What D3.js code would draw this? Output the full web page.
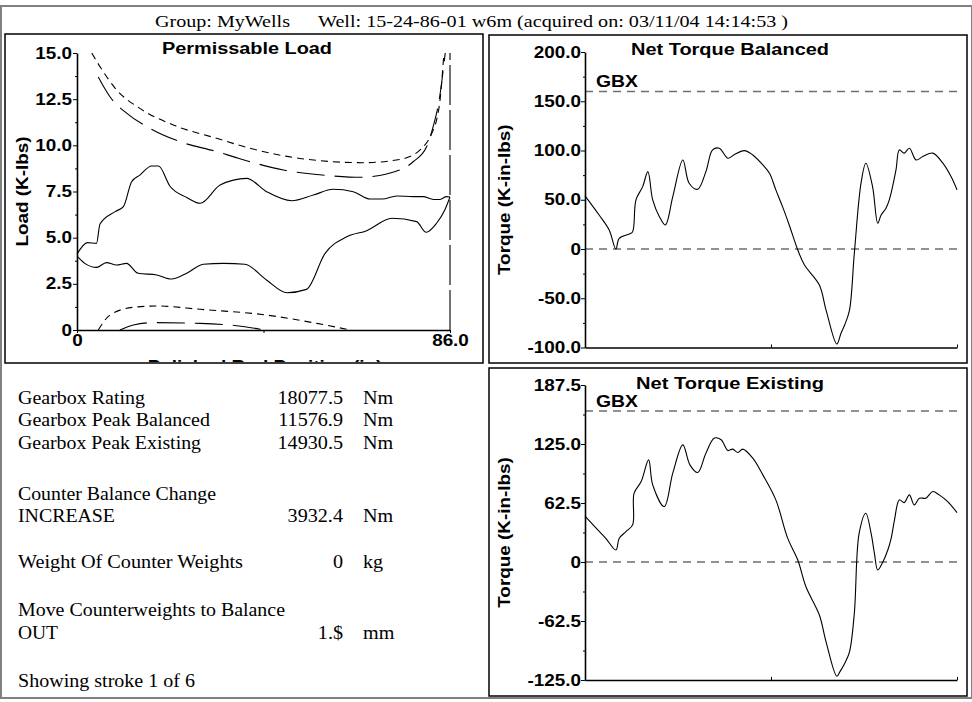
<!DOCTYPE html>
<html><head><meta charset="utf-8">
<script src="https://cdn.jsdelivr.net/npm/d3@7"></script>
<style>body{margin:0;background:#fff}svg{display:block}</style>
</head><body>
<svg id="c" width="972" height="702"></svg>
<script>
// ---------------- DATA ----------------
const titleGroup = "Group: MyWells";
const titleWell = "Well: 15-24-86-01 w6m (acquired on: 03/11/04 14:14:53 )";

// Permissable Load chart (position in, load K-lbs)
const loadTicks = [0, 2.5, 5, 7.5, 10, 12.5, 15];
const loadMinorTicks = [1.25, 3.75, 6.25, 8.75, 11.25, 13.75];
const posTicks = [0, 43, 86];
const cardUpPos  = [0, 2.4, 4.5, 5.3, 8.8, 10.7, 12.6, 14.5, 17.2, 18.8, 21.4, 25.3, 28.4, 33, 39.1, 43.7, 49.5, 54.5, 59.1, 63.7, 67.6, 70.4, 73.7, 77.5, 79.8, 82.2, 83.7, 85.2, 86];
const cardUpLoad = [4.1, 4.73, 4.69, 5.74, 6.41, 6.68, 8.03, 8.39, 8.88, 8.88, 7.8, 7.18, 6.86, 7.85, 8.21, 7.49, 7.0, 7.31, 7.62, 7.49, 7.09, 7.09, 7.26, 7.22, 7.22, 7.07, 7.07, 7.22, 7.2];
const cardDnPos  = [0, 1.8, 4.5, 6.8, 9.1, 11.4, 14.1, 18.4, 21.8, 25.3, 29.1, 33.8, 38.7, 43.7, 48.4, 52.9, 57.2, 62.2, 66.8, 72.6, 78.3, 80.5, 82.9, 84.8, 86];
const cardDnLoad = [4.0, 3.61, 3.39, 3.65, 3.52, 3.61, 3.07, 2.98, 2.76, 3.07, 3.56, 3.61, 3.56, 2.71, 2.02, 2.2, 4.15, 5.05, 5.38, 6.05, 5.87, 5.29, 5.78, 6.5, 7.2];
const maxEnvPos  = [3.4, 5.3, 9.15, 14.5, 22.2, 32.2, 39.9, 51.4, 66, 74.5, 79.1, 81.8, 82.9, 83.7, 84.6];
const maxEnvLoad = [15, 14.26, 13.0, 12.0, 11.1, 10.38, 9.84, 9.29, 9.06, 9.24, 9.75, 10.65, 11.37, 12.45, 15];
const maxLimPos  = [4.9, 7.6, 11.5, 16.8, 23.7, 32.2, 37.2, 47.6, 59.1, 65.3, 71.4, 77.5, 80.6, 82.1, 83.5, 84.9];
const maxLimLoad = [13.7, 12.63, 11.73, 10.92, 10.2, 9.66, 9.3, 8.66, 8.34, 8.27, 8.45, 9.11, 9.92, 11.0, 12.45, 15];
const minEnvPos  = [4.9, 7.6, 13, 18.4, 28.4, 43.7, 55.3, 63];
const minEnvLoad = [0, 0.81, 1.23, 1.3, 1.12, 0.81, 0.36, 0];
const minLimPos  = [9.9, 13, 17.6, 28.4, 42.2, 43];
const minLimLoad = [0, 0.27, 0.4, 0.36, 0.04, 0];
const strokeEndPos = [86, 86];
const strokeEndLoad = [0, 15];

// Net torque charts (percent of stroke, K-in-lbs)
const gbxRating = 160;
const balTicks = [-100, -50, 0, 50, 100, 150, 200];
const balMinorTicks = [-75, -25, 25, 75, 125, 175];
const exiTicks = [-125, -62.5, 0, 62.5, 125, 187.5];
const exiMinorTicks = [-93.75, -31.25, 31.25, 93.75, 156.25];
const strokeTicks = [0, 50, 100];
const balT = [0, 3.8, 6.5, 8.3, 9.2, 11.9, 12.8, 13.7, 15.5, 16.9, 18.2, 20, 21.6, 23.6, 26.3, 28, 30.3, 32.5, 34.3, 36.1, 38.4, 40, 42.8, 45.1, 47.8, 49.6, 51.3, 53.1, 54.9, 57.2, 59, 63, 64.8, 67.7, 68.8, 69.8, 71.1, 72.4, 74.2, 75.5, 77.3, 78.7, 79.6, 80.9, 81.8, 83.6, 84.5, 85.8, 87.2, 89, 90.8, 93.5, 96.2, 98.4, 100];
const balTorque = [54, 34.5, 19.3, 0, 10.8, 15.2, 17.6, 49.8, 63.3, 78.6, 49.8, 32.8, 24.4, 53.2, 90.4, 66.8, 60.7, 78.6, 100.6, 102.3, 92.2, 95.5, 99.9, 95.5, 85.4, 76.9, 60, 43, 24.4, -1, -16.3, -36.6, -62, -96.5, -85.7, -77.2, -62, -4.4, 66.8, 87.1, 63.3, 26.1, 34.5, 41.4, 49.8, 80.3, 100.6, 97.3, 102.3, 90.4, 93.8, 97.3, 87.1, 73.5, 60];
const exiT = [0, 3, 5.6, 8.3, 9.2, 11, 12.8, 13.2, 15.1, 17.1, 18.2, 21.3, 23.6, 26.3, 28.2, 30.3, 32.5, 34.8, 36.6, 38.4, 39.7, 41.1, 42.4, 45.1, 47.8, 51.3, 54.5, 57.2, 59.4, 63, 64.8, 67.7, 68.5, 69.8, 71.1, 72.4, 73.7, 75.5, 76.9, 77.8, 78.7, 80.1, 81.4, 82.3, 83.2, 84.5, 85.8, 87.2, 88.5, 89.9, 91.6, 93.5, 95.2, 97.5, 100];
const exiTorque = [48.5, 35.8, 25.1, 12.7, 25.1, 32.2, 39.3, 72.9, 85.2, 108.2, 81.7, 58.7, 94.1, 124.1, 102.9, 94.8, 115.3, 131.3, 129.5, 118.1, 119.6, 116, 119.6, 110, 92.3, 65.8, 25, 2.1, -26.2, -56.2, -84.6, -121, -116.4, -107.5, -95.2, -54.4, 30.5, 51.7, 30.5, 9.2, -8.5, 0.3, 12.7, 25.1, 44.6, 65.8, 62.9, 71.1, 60.5, 67.6, 67.6, 74.6, 71.1, 64, 52.3];

// Info panel
const infoLabels = ["Gearbox Rating", "Gearbox Peak Balanced", "Gearbox Peak Existing", "Counter Balance Change", "INCREASE", "Weight Of Counter Weights", "Move Counterweights to Balance", "OUT", "Showing stroke 1 of 6"];
const infoValues = ["18077.5", "11576.9", "14930.5", "", "3932.4", "0", "", "1.$", ""];
const infoUnits  = ["Nm", "Nm", "Nm", "", "Nm", "kg", "", "mm", ""];

// ---------------- DRAW ----------------
const svg = d3.select('#c');
const SX = 1.18;
const FS = 16;
const sans = '"Liberation Sans", Arial, Helvetica, sans-serif';
const serif = '"Liberation Serif", "Times New Roman", Times, serif';

function label(g, x, y, s, o = {}) {
  const t = g.append('text')
    .attr('transform', `translate(${x},${y})${o.rot ? ` rotate(${o.rot})` : ''}${o.len ? '' : ` scale(${o.sx || SX},1)`}`)
    .attr('text-anchor', o.anchor || 'start')
    .style('font-family', o.font || sans)
    .style('font-size', (o.size || FS) + 'px')
    .style('font-weight', o.normal ? 'normal' : 'bold')
    .attr('fill', '#000')
    .text(s);
  if (o.len) t.attr('textLength', o.len).attr('lengthAdjust', 'spacingAndGlyphs');
  return t;
}

function styleAxis(g) {
  g.attr('font-family', sans).attr('font-size', FS).attr('font-weight', 'bold');
  g.select('.domain').attr('stroke', '#000').attr('stroke-width', 1.6);
  g.selectAll('.tick line').attr('stroke', '#000').attr('stroke-width', 1);
  g.selectAll('.tick text').attr('fill', '#000').each(function () {
    const t = d3.select(this);
    const x = +t.attr('x') || 0, y = +t.attr('y') || 0;
    t.attr('x', 0).attr('y', 0).attr('transform', `translate(${x},${y}) scale(${SX},1)`);
  });
}
function minorAxis(g) { g.select('.domain').remove(); g.selectAll('.tick line').attr('stroke', '#000'); }

// frame
svg.append('rect').attr('x', 1).attr('y', 6).attr('width', 971).attr('height', 692)
  .attr('fill', 'none').attr('stroke', '#808080').attr('stroke-width', 2);
label(svg, 155, 27, titleGroup, { font: serif, size: 16, normal: true, len: 135 });
label(svg, 318, 27, titleWell, { font: serif, size: 16, normal: true, len: 470 });

// panels
const panels = [[5, 34, 478, 329], [489, 35, 478, 328], [489, 368, 478, 328]];
panels.forEach(p => svg.append('rect').attr('x', p[0]).attr('y', p[1]).attr('width', p[2]).attr('height', p[3])
  .attr('fill', 'none').attr('stroke', '#000').attr('stroke-width', 1.5));

// ---------- Permissable Load ----------
const gL = svg.append('g');
const xL = d3.scaleLinear().domain([0, 86]).range([77, 450]);
const yL = d3.scaleLinear().domain([0, 15]).range([330, 53]);
svg.append('clipPath').attr('id', 'clipL').append('rect').attr('x', 6).attr('y', 35).attr('width', 476).attr('height', 327);

const lineL = (xs, ys, curve) => d3.line().x((d, i) => xL(xs[i])).y((d, i) => yL(ys[i])).curve(curve || d3.curveMonotoneX)(xs);
const loadSeries = [
  [maxEnvPos, maxEnvLoad, '7,5'],
  [maxLimPos, maxLimLoad, '28,10'],
  [minEnvPos, minEnvLoad, '7,5'],
  [minLimPos, minLimLoad, '28,10'],
  [cardUpPos, cardUpLoad, null],
  [cardDnPos, cardDnLoad, null],
];
loadSeries.forEach(s => gL.append('path').attr('d', lineL(s[0], s[1])).attr('fill', 'none')
  .attr('stroke', '#000').attr('stroke-width', 1.1).attr('stroke-dasharray', s[2]));
gL.append('path').attr('d', lineL(strokeEndPos, strokeEndLoad, d3.curveLinear)).attr('fill', 'none')
  .attr('stroke', '#000').attr('stroke-width', 1.1).attr('stroke-dasharray', '40,5');

gL.append('g').attr('transform', 'translate(77,0)')
  .call(d3.axisLeft(yL).tickValues(loadTicks).tickFormat(d => d === 0 ? '0' : d.toFixed(1)).tickSize(4).tickSizeOuter(0).tickPadding(1))
  .call(styleAxis);
gL.append('g').attr('transform', 'translate(77,0)')
  .call(d3.axisLeft(yL).tickValues(loadMinorTicks).tickSize(2).tickFormat(''))
  .call(minorAxis);
gL.append('g').attr('transform', 'translate(0,330)')
  .call(d3.axisBottom(xL).tickValues(posTicks).tickFormat(d => d === 0 ? '0' : (d === 86 ? '86.0' : '')).tickSize(3).tickSizeOuter(0).tickPadding(2))
  .call(styleAxis);
label(gL, 162, 54, 'Permissable Load', { len: 170 });
label(gL, 28, 191.5, 'Load (K-lbs)', { rot: -90, anchor: 'middle' });
gL.append('g').attr('clip-path', 'url(#clipL)').call(g => label(g, 265, 372.3, 'Polished Rod Position (in)', { anchor: 'middle' }));

// ---------- Torque charts ----------
function torqueChart(cfg) {
  const g = svg.append('g');
  const x = d3.scaleLinear().domain([0, 100]).range([585, 957]);
  const y = d3.scaleLinear().domain(cfg.domain).range(cfg.range);
  [gbxRating, 0].forEach(v => g.append('line').attr('x1', x(0)).attr('x2', x(100)).attr('y1', y(v)).attr('y2', y(v))
    .attr('stroke', '#6e6e6e').attr('stroke-width', 1.5).attr('stroke-dasharray', '8,6'));
  g.append('path').attr('d', d3.line().x((d, i) => x(cfg.t[i])).y((d, i) => y(cfg.v[i])).curve(d3.curveCatmullRom.alpha(0.5))(cfg.t))
    .attr('fill', 'none').attr('stroke', '#000').attr('stroke-width', 1.1);
  g.append('g').attr('transform', `translate(${x(0)},0)`)
    .call(d3.axisLeft(y).tickValues(cfg.ticks).tickFormat(d => d === 0 ? '0' : d.toFixed(1)).tickSize(4).tickSizeOuter(0).tickPadding(0))
    .call(styleAxis);
  g.append('g').attr('transform', `translate(${x(0)},0)`)
    .call(d3.axisLeft(y).tickValues(cfg.minor).tickSize(2).tickFormat(''))
    .call(minorAxis);
  g.append('g').attr('transform', `translate(0,${y(cfg.domain[0])})`)
    .call(d3.axisBottom(x).tickValues(strokeTicks).tickSize(-3).tickSizeOuter(0).tickFormat(''))
    .call(styleAxis);
  label(g, cfg.titleX, cfg.titleY, cfg.title, { len: cfg.titleLen });
  label(g, 596, y(gbxRating) - cfg.gbxOff, 'GBX', { len: 42 });
  label(g, 510, (cfg.range[0] + cfg.range[1]) / 2, 'Torque (K-in-lbs)', { rot: -90, anchor: 'middle' });
}
torqueChart({ domain: [-100, 200], range: [347.5, 52], ticks: balTicks, minor: balMinorTicks, t: balT, v: balTorque,
  title: 'Net Torque Balanced', titleX: 631, titleY: 55, titleLen: 198, gbxOff: 4 });
torqueChart({ domain: [-125, 187.5], range: [680, 385], ticks: exiTicks, minor: exiMinorTicks, t: exiT, v: exiTorque,
  title: 'Net Torque Existing', titleX: 636, titleY: 389, titleLen: 188, gbxOff: 4 });

// ---------- Info panel ----------
const infoY = [403.5, 426, 448.5, 500, 522, 568, 616, 639, 687];
const labelLen = [127, 192, 183, 198, 97, 225, 267, 40, 177];
const gI = svg.append('g');
infoLabels.forEach((s, i) => {
  label(gI, 18, infoY[i], s, { font: serif, size: 18, normal: true, len: labelLen[i] });
  if (infoValues[i]) label(gI, 343, infoY[i], infoValues[i], { font: serif, size: 18, normal: true, anchor: 'end', sx: 1.12 });
  if (infoUnits[i]) label(gI, 363, infoY[i], infoUnits[i], { font: serif, size: 18, normal: true, sx: 1.12 });
});
</script>
</body></html>
